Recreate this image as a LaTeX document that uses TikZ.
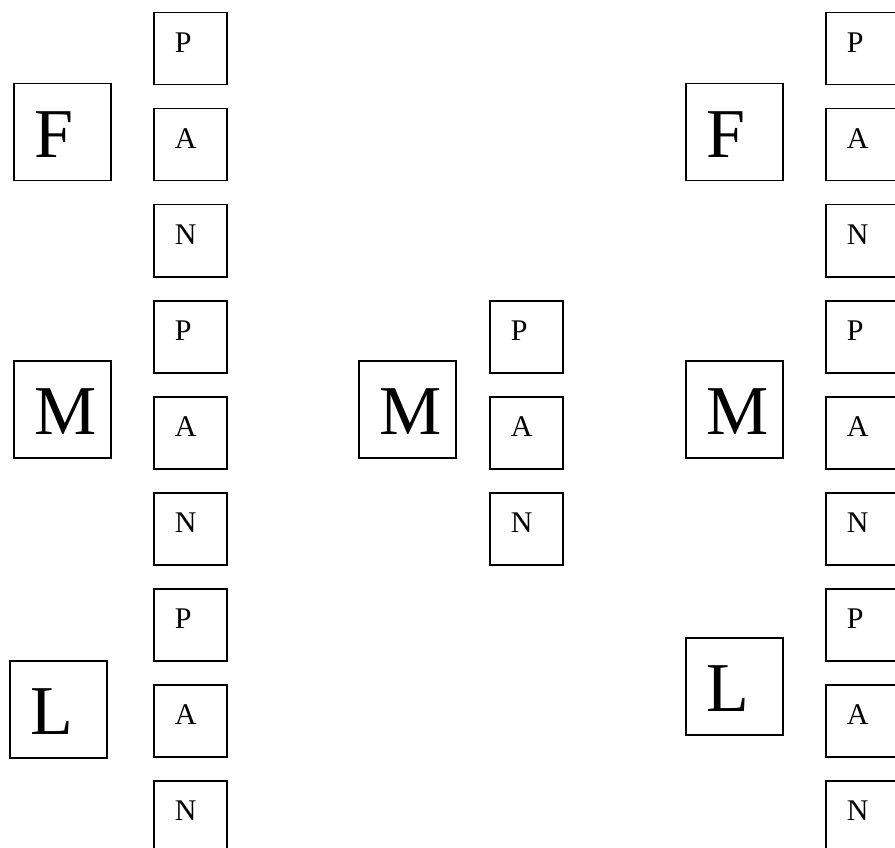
\documentclass[tikz,border=0pt]{standalone}
\usepackage{fontspec}
\setmainfont{Liberation Serif}
\begin{document}
\begin{tikzpicture}[x=1pt,y=1pt,
  bigbox/.style={draw=black, line width=1.5pt, anchor=north west, inner xsep=0pt, inner ysep=0pt,
    text width=97pt, text height=74pt, text depth=23pt, align=left,
    font=\fontsize{70}{84}\selectfont},
  smallbox/.style={draw=black, line width=1.5pt, anchor=north west, inner xsep=0pt, inner ysep=0pt,
    text width=73pt, text height=40pt, text depth=32pt, align=left,
    font=\fontsize{30}{36}\selectfont}]
\useasboundingbox (0,0) rectangle (895,-848);
% big boxes
\node[bigbox] (lF) at (13,-83) {\hspace*{21pt}F};
\node[bigbox] (lM) at (13,-360) {\hspace*{21pt}M};
\node[bigbox] (lL) at (9,-660) {\hspace*{21pt}L};
\node[bigbox] (mM) at (358,-360) {\hspace*{21pt}M};
\node[bigbox] (rF) at (685,-83) {\hspace*{21pt}F};
\node[bigbox] (rM) at (685,-360) {\hspace*{21pt}M};
\node[bigbox] (rL) at (685,-637) {\hspace*{21pt}L};
% small boxes, left and right columns
\foreach \col/\x in {l/153, r/825}{
  \foreach \i/\t/\y in {1/P/12, 2/A/108, 3/N/204, 4/P/300, 5/A/396, 6/N/492, 7/P/588, 8/A/684, 9/N/780}{
    \node[smallbox] (\col s\i) at (\x,-\y) {\hspace*{21pt}\t};
  }
}
% middle column
\node[smallbox] (ms1) at (489,-300) {\hspace*{21pt}P};
\node[smallbox] (ms2) at (489,-396) {\hspace*{21pt}A};
\node[smallbox] (ms3) at (489,-492) {\hspace*{21pt}N};
\end{tikzpicture}
\end{document}
